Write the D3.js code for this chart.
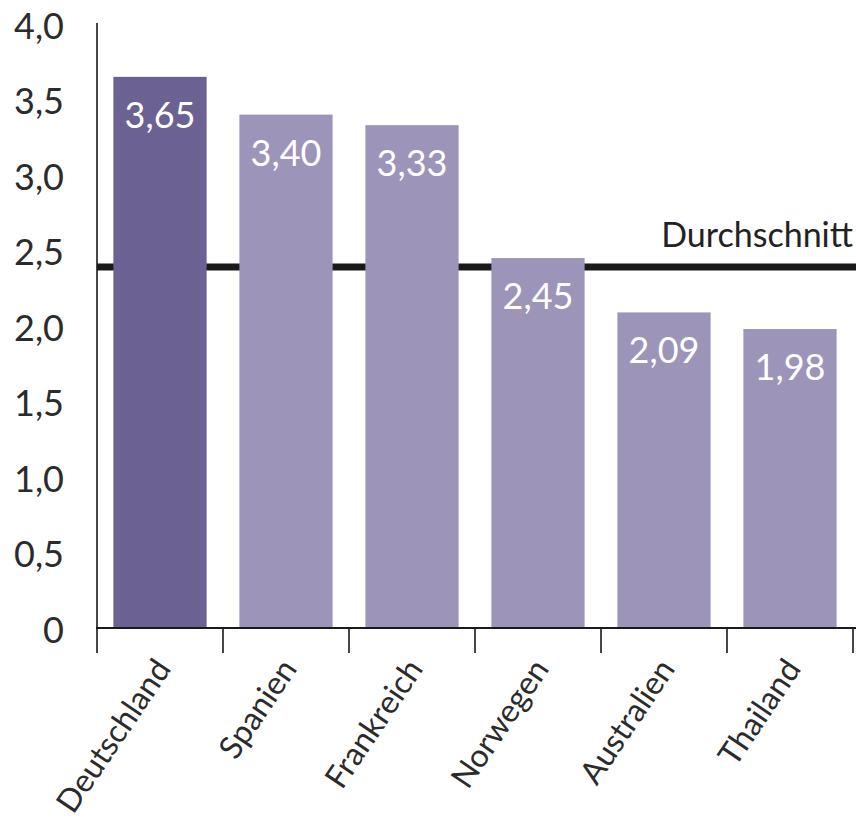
<!DOCTYPE html>
<html>
<head>
<meta charset="utf-8">
<script src="https://cdn.jsdelivr.net/npm/d3@7"></script>
<style>
  body { margin: 0; background: #fff; }
  svg { display: block; }
</style>
</head>
<body>
<svg></svg>
<script>
const WIDTH = 856;
const HEIGHT = 830;

const countries = ["Deutschland", "Spanien", "Frankreich", "Norwegen", "Australien", "Thailand"];
const values = [3.65, 3.40, 3.33, 2.45, 2.09, 1.98];
const highlight = ["Deutschland"];
const average = 2.39;
const averageLabel = "Durchschnitt";
const yTicks = [0, 0.5, 1, 1.5, 2, 2.5, 3, 3.5, 4];

const FONT = "Lato, 'Open Sans', sans-serif";
const AXIS_LEFT = 97;
const AXIS_RIGHT = 853;
const BASE_Y = 628;
const TOP_Y = 24;

var svg = d3.select("svg")
    .attr("width", WIDTH)
    .attr("height", HEIGHT);

var x = d3.scaleBand()
    .domain(countries)
    .range([AXIS_LEFT, AXIS_RIGHT])
    .paddingInner(0.26)
    .paddingOuter(0.13);

var y = d3.scaleLinear()
    .domain([0, 4])
    .range([BASE_Y, TOP_Y]);

const fmt = (v) => v === 0 ? "0" : d3.format(".1f")(v).replace(".", ",");
const fmt2 = (v) => d3.format(".2f")(v).replace(".", ",");

// y tick labels (no tick marks in the original)
svg.append("g")
    .selectAll("text")
    .data(yTicks)
    .join("text")
    .attr("x", 64)
    .attr("y", d => y(d) + 2)
    .attr("dy", "0.36em")
    .attr("text-anchor", "end")
    .style("font-family", FONT)
    .style("font-size", "36px")
    .style("fill", "#2b2b2b")
    .text(fmt);

// average line sits behind the bars
svg.append("line")
    .attr("x1", AXIS_LEFT)
    .attr("x2", WIDTH)
    .attr("y1", y(average))
    .attr("y2", y(average))
    .attr("stroke", "#1a1a1a")
    .attr("stroke-width", 7);

svg.append("text")
    .attr("x", 853)
    .attr("y", 247)
    .attr("text-anchor", "end")
    .style("font-family", FONT)
    .style("font-size", "34px")
    .style("fill", "#222")
    .text(averageLabel);

var bars = svg.append("g");

bars.selectAll("rect")
    .data(countries)
    .join("rect")
    .attr("x", d => x(d))
    .attr("width", x.bandwidth())
    .attr("y", (d, i) => y(values[i]))
    .attr("height", (d, i) => BASE_Y - y(values[i]))
    .attr("fill", d => highlight.includes(d) ? "#6b6293" : "#9c95b9");

bars.selectAll("text")
    .data(countries)
    .join("text")
    .attr("x", d => x(d) + x.bandwidth() / 2)
    .attr("y", (d, i) => y(values[i]) + 51)
    .attr("text-anchor", "middle")
    .style("font-family", FONT)
    .style("font-size", "36px")
    .style("fill", "#fff")
    .text((d, i) => fmt2(values[i]));

// axes
svg.append("line")
    .attr("x1", AXIS_LEFT)
    .attr("x2", AXIS_LEFT)
    .attr("y1", 23)
    .attr("y2", BASE_Y)
    .attr("stroke", "#1a1a1a")
    .attr("stroke-width", 1.6);

svg.append("line")
    .attr("x1", AXIS_LEFT - 1)
    .attr("x2", WIDTH)
    .attr("y1", BASE_Y)
    .attr("y2", BASE_Y)
    .attr("stroke", "#1a1a1a")
    .attr("stroke-width", 2);

const boundaries = [AXIS_LEFT].concat(countries.map(d => x(d) + x.bandwidth() + x.step() * x.paddingInner() / 2));

svg.append("g")
    .selectAll("line")
    .data(boundaries)
    .join("line")
    .attr("x1", d => d)
    .attr("x2", d => d)
    .attr("y1", BASE_Y)
    .attr("y2", BASE_Y + 25)
    .attr("stroke", "#1a1a1a")
    .attr("stroke-width", 1.6);

// rotated category labels
svg.append("g")
    .selectAll("text")
    .data(countries)
    .join("text")
    .attr("text-anchor", "end")
    .attr("transform", d => `translate(${x(d) + x.bandwidth() / 2 + 12}, 669) rotate(-56)`)
    .style("font-family", FONT)
    .style("font-size", "32px")
    .style("fill", "#2b2b2b")
    .text(d => d);
</script>
</body>
</html>
